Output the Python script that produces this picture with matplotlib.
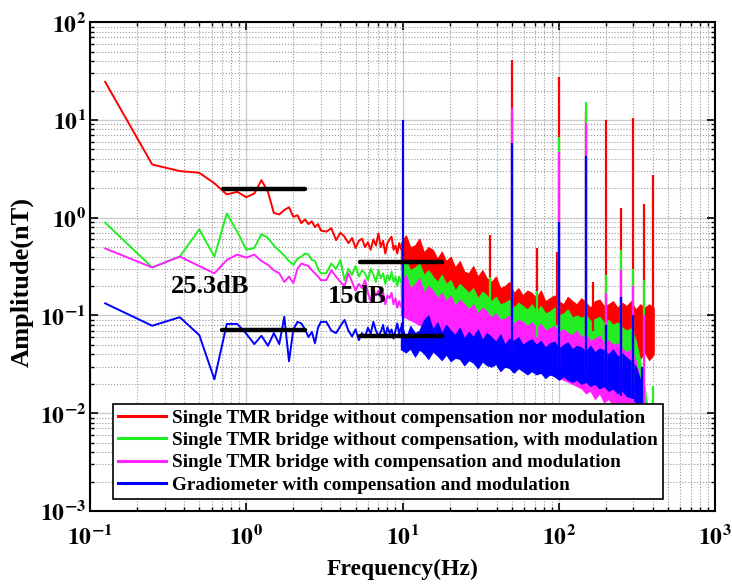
import matplotlib
matplotlib.use("Agg")
import matplotlib.pyplot as plt
from matplotlib.lines import Line2D

plt.rcParams['font.family'] = ['Liberation Serif', 'DejaVu Serif']
plt.rcParams['font.weight'] = 'bold'
plt.rcParams['mathtext.fontset'] = 'stix'

# FFT bins below 3 Hz (0.125 Hz resolution)
f_bins = [0.125, 0.25, 0.375, 0.5, 0.625, 0.75, 0.875, 1.0, 1.125, 1.25, 1.375, 1.5,
          1.625, 1.75, 1.875, 2.0, 2.125, 2.25, 2.375, 2.5, 2.625, 2.75, 2.875, 3.0]
red_lo = [24.5, 3.5, 3.0, 2.88, 2.25, 1.73, 1.84, 1.62, 1.77, 2.42, 1.84, 1.12,
          1.08, 1.2, 1.28, 1.02, 1.06, 0.88, 0.96, 0.86, 0.92, 0.8, 0.86, 0.74]
green_lo = [0.89, 0.31, 0.40, 0.76, 0.40, 1.11, 0.72, 0.47, 0.49, 0.68, 0.62, 0.52,
            0.46, 0.41, 0.36, 0.33, 0.38, 0.40, 0.43, 0.42, 0.37, 0.36, 0.30, 0.27]
magenta_lo = [0.485, 0.31, 0.40, 0.32, 0.27, 0.37, 0.42, 0.39, 0.42, 0.36, 0.33, 0.29,
              0.27, 0.22, 0.25, 0.215, 0.30, 0.34, 0.33, 0.32, 0.29, 0.27, 0.25, 0.23]
blue_lo = [0.133, 0.0785, 0.096, 0.063, 0.0222, 0.082, 0.082, 0.065, 0.051, 0.062, 0.049, 0.066,
           0.051, 0.097, 0.034, 0.072, 0.086, 0.083, 0.072, 0.060, 0.068, 0.052, 0.075, 0.086]

# 3 - 10 Hz
f_mid = [3.25, 3.5, 3.75, 4.0, 4.25, 4.5, 4.75, 5.0, 5.25, 5.5, 5.75, 6.0, 6.25, 6.5,
         6.75, 7.0, 7.25, 7.5, 7.75, 8.0, 8.25, 8.5, 8.75, 9.0, 9.25, 9.5, 9.75]
red_mid = [0.72, 0.78, 0.59, 0.70, 0.64, 0.55, 0.62, 0.49, 0.58, 0.61, 0.50, 0.56, 0.47, 0.60,
           0.52, 0.69, 0.50, 0.58, 0.43, 0.55, 0.60, 0.64, 0.47, 0.52, 0.43, 0.55, 0.48]
green_mid = [0.27, 0.34, 0.30, 0.37, 0.23, 0.30, 0.26, 0.32, 0.25, 0.29, 0.27, 0.23, 0.30, 0.26,
             0.22, 0.29, 0.24, 0.27, 0.21, 0.26, 0.23, 0.28, 0.22, 0.25, 0.20, 0.25, 0.22]
magenta_mid = [0.23, 0.29, 0.25, 0.22, 0.20, 0.27, 0.22, 0.18, 0.21, 0.19, 0.23, 0.17, 0.14, 0.19,
               0.16, 0.18, 0.15, 0.17, 0.13, 0.16, 0.15, 0.17, 0.13, 0.15, 0.12, 0.14, 0.124]
blue_mid = [0.086, 0.070, 0.066, 0.078, 0.090, 0.070, 0.061, 0.072, 0.056, 0.066, 0.060, 0.075, 0.065, 0.086,
            0.070, 0.062, 0.068, 0.080, 0.060, 0.076, 0.066, 0.072, 0.058, 0.070, 0.083, 0.065, 0.075]

# dense part above 10 Hz: upper / lower edge of each noise band
f_band = [9.75, 10.5, 11.2, 12, 12.8, 13.7, 14.6, 15.6, 16.7, 17.8,
          19, 20.3, 21.7, 23.2, 24.8, 26.5, 28.3, 30.3, 32.4, 34.6,
          37, 39.5, 42.2, 45.1, 48.2, 51.5, 55, 58.8, 62.8, 67.1,
          71.7, 76.6, 81.9, 87.5, 93.5, 100, 107, 114, 122, 130,
          139, 149, 159, 170, 182, 194, 208, 222, 237, 254,
          271, 290, 310, 331, 354, 378, 404]
red_up = [0.55, 0.66, 0.50, 0.52, 0.61, 0.44, 0.50, 0.47, 0.38, 0.45,
          0.36, 0.40, 0.31, 0.36, 0.28, 0.27, 0.32, 0.25, 0.29, 0.24,
          0.22, 0.25, 0.19, 0.20, 0.22, 0.17, 0.19, 0.16, 0.18, 0.17,
          0.15, 0.18, 0.14, 0.15, 0.16, 0.14, 0.13, 0.155, 0.14, 0.13,
          0.15, 0.135, 0.12, 0.14, 0.145, 0.125, 0.13, 0.14, 0.12, 0.135,
          0.125, 0.14, 0.115, 0.13, 0.12, 0.13, 0.12]
red_dn = [0.30, 0.28, 0.26, 0.25, 0.23, 0.22, 0.21, 0.20, 0.19, 0.18,
          0.17, 0.16, 0.15, 0.14, 0.135, 0.13, 0.12, 0.115, 0.11, 0.105,
          0.10, 0.095, 0.09, 0.088, 0.085, 0.082, 0.08, 0.078, 0.076, 0.074,
          0.072, 0.07, 0.068, 0.066, 0.065, 0.064, 0.062, 0.06, 0.058, 0.057,
          0.056, 0.055, 0.054, 0.053, 0.052, 0.05, 0.049, 0.048, 0.046, 0.045,
          0.044, 0.038, 0.045, 0.036, 0.042, 0.035, 0.04]
green_up = [0.32, 0.37, 0.29, 0.31, 0.34, 0.26, 0.29, 0.25, 0.22, 0.26,
            0.21, 0.23, 0.18, 0.21, 0.19, 0.17, 0.19, 0.15, 0.175, 0.16,
            0.14, 0.155, 0.13, 0.135, 0.145, 0.12, 0.135, 0.125, 0.115, 0.13,
            0.11, 0.125, 0.105, 0.11, 0.12, 0.10, 0.105, 0.115, 0.095, 0.10,
            0.095, 0.10, 0.088, 0.092, 0.097, 0.085, 0.09, 0.08, 0.085, 0.075,
            0.07, 0.074, 0.056, 0.035, 0.018, 0.009, 0.005]
green_dn = [0.16, 0.15, 0.145, 0.14, 0.13, 0.125, 0.12, 0.115, 0.11, 0.105,
            0.10, 0.095, 0.09, 0.088, 0.085, 0.082, 0.08, 0.077, 0.074, 0.072,
            0.07, 0.067, 0.065, 0.063, 0.061, 0.06, 0.058, 0.057, 0.055, 0.054,
            0.052, 0.051, 0.05, 0.049, 0.048, 0.047, 0.046, 0.045, 0.044, 0.043,
            0.042, 0.041, 0.04, 0.038, 0.037, 0.035, 0.034, 0.032, 0.03, 0.028,
            0.026, 0.023, 0.019, 0.013, 0.008, 0.005, 0.004]
magenta_up = [0.22, 0.26, 0.19, 0.21, 0.24, 0.17, 0.20, 0.18, 0.15, 0.17,
              0.14, 0.16, 0.125, 0.145, 0.13, 0.115, 0.13, 0.105, 0.12, 0.11,
              0.095, 0.105, 0.09, 0.093, 0.10, 0.083, 0.09, 0.086, 0.078, 0.085,
              0.074, 0.082, 0.07, 0.074, 0.078, 0.068, 0.072, 0.066, 0.063, 0.07,
              0.06, 0.064, 0.055, 0.058, 0.062, 0.052, 0.056, 0.05, 0.052, 0.046,
              0.042, 0.045, 0.034, 0.022, 0.012, 0.006, 0.004]
magenta_dn = [0.10, 0.095, 0.09, 0.085, 0.08, 0.077, 0.074, 0.07, 0.067, 0.064,
              0.061, 0.058, 0.055, 0.053, 0.05, 0.048, 0.046, 0.044, 0.042, 0.04,
              0.038, 0.037, 0.036, 0.035, 0.034, 0.033, 0.032, 0.031, 0.03, 0.029,
              0.028, 0.027, 0.026, 0.025, 0.024, 0.023, 0.022, 0.021, 0.02, 0.019,
              0.018, 0.016, 0.017, 0.014, 0.016, 0.013, 0.014, 0.012, 0.013, 0.011,
              0.01, 0.011, 0.008, 0.006, 0.005, 0.004, 0.003]
blue_up = [0.085, 0.058, 0.078, 0.066, 0.07, 0.09, 0.10, 0.072, 0.085, 0.066,
           0.08, 0.07, 0.063, 0.075, 0.058, 0.068, 0.06, 0.072, 0.056, 0.066,
           0.06, 0.054, 0.064, 0.05, 0.058, 0.055, 0.06, 0.05, 0.054, 0.057,
           0.05, 0.055, 0.047, 0.052, 0.054, 0.046, 0.05, 0.053, 0.045, 0.049,
           0.047, 0.043, 0.049, 0.042, 0.046, 0.044, 0.04, 0.045, 0.038, 0.041,
           0.037, 0.034, 0.03, 0.022, 0.01, 0.005, 0.004]
blue_dn = [0.045, 0.042, 0.046, 0.038, 0.045, 0.041, 0.036, 0.043, 0.039, 0.035,
           0.04, 0.034, 0.037, 0.036, 0.031, 0.035, 0.033, 0.029, 0.034, 0.031,
           0.03, 0.032, 0.027, 0.03, 0.029, 0.026, 0.029, 0.027, 0.025, 0.027,
           0.025, 0.026, 0.023, 0.025, 0.024, 0.022, 0.024, 0.022, 0.021, 0.022,
           0.02, 0.021, 0.019, 0.02, 0.018, 0.019, 0.017, 0.018, 0.016, 0.017,
           0.015, 0.0145, 0.013, 0.013, 0.008, 0.005, 0.004]

# narrow-band peaks: frequency, top, bottom
red_pk_f = [36.5, 50, 72, 97, 100, 150, 166, 200, 250, 300, 350, 400]
red_pk_top = [0.66, 40.8, 0.49, 0.45, 27.5, 12.0, 0.22, 10.0, 1.27, 10.4, 1.38, 2.73]
red_pk_bot = [0.15, 0.1, 0.1, 0.08, 0.08, 0.07, 0.07, 0.06, 0.05, 0.05, 0.04, 0.04]
green_pk_f = [36.5, 50, 72, 100, 150, 200, 250, 300, 350, 400]
green_pk_top = [0.25, 12.0, 0.18, 6.7, 15.3, 0.26, 0.47, 0.30, 0.23, 0.019]
green_pk_bot = [0.1, 0.07, 0.06, 0.05, 0.045, 0.035, 0.03, 0.02, 0.012, 0.011]
magenta_pk_f = [50, 100, 150, 200, 250, 300, 350]
magenta_pk_top = [13.1, 4.7, 9.2, 0.17, 0.29, 0.20, 0.10]
magenta_pk_bot = [0.04, 0.03, 0.025, 0.02, 0.015, 0.012, 0.01]
blue_pk_f = [10, 50, 100, 150, 200, 250, 300, 340]
blue_pk_top = [10.0, 5.75, 0.91, 4.27, 0.08, 0.155, 0.10, 0.03]
blue_pk_bot = [0.045, 0.028, 0.024, 0.022, 0.018, 0.015, 0.014, 0.012]

labels = ['Single TMR bridge without compensation nor modulation',
          'Single TMR bridge without compensation, with modulation',
          'Single TMR bridge with compensation and modulation',
          'Gradiometer with compensation and modulation']
colors = ['#ff0000', '#22ee22', '#ff22ff', '#0000ff']

series = [
    (red_lo, red_mid, red_up, red_dn, red_pk_f, red_pk_top, red_pk_bot),
    (green_lo, green_mid, green_up, green_dn, green_pk_f, green_pk_top, green_pk_bot),
    (magenta_lo, magenta_mid, magenta_up, magenta_dn, magenta_pk_f, magenta_pk_top, magenta_pk_bot),
    (blue_lo, blue_mid, blue_up, blue_dn, blue_pk_f, blue_pk_top, blue_pk_bot),
]

fig = plt.figure(figsize=(7.32, 5.84), dpi=100)
ax = fig.add_axes([0.123, 0.125, 0.854, 0.837])

for (lo, mid, up, dn, pf, pt, pb), c in zip(series, colors):
    ax.plot(f_bins + f_mid, lo + mid, color=c, lw=1.4)
    ax.fill_between(f_band, dn, up, color=c, lw=0.8, edgecolor=c)
    ax.vlines(pf, pb, pt, color=c, lw=1.6)

# level markers
ax.plot([0.71, 2.38], [1.96, 1.96], color='k', lw=3.2, solid_capstyle='round')
ax.plot([0.70, 2.36], [0.0715, 0.0715], color='k', lw=3.2, solid_capstyle='round')
ax.plot([5.3, 17.8], [0.35, 0.35], color='k', lw=3.2, solid_capstyle='round')
ax.plot([5.3, 17.8], [0.0615, 0.0615], color='k', lw=3.2, solid_capstyle='round')
ax.text(0.586, 0.20, '25.3dB', fontsize=19, fontweight='bold', ha='center', va='center')
ax.text(5.15, 0.157, '15dB', fontsize=19, fontweight='bold', ha='center', va='center')

ax.set_xscale('log')
ax.set_yscale('log')
ax.set_xlim(0.1, 1000)
ax.set_ylim(1e-3, 1e2)
ax.set_xticks([0.1, 1, 10, 100, 1000])
ax.set_xticklabels([r'$\mathbf{10^{-1}}$', r'$\mathbf{10^{0}}$', r'$\mathbf{10^{1}}$',
                    r'$\mathbf{10^{2}}$', r'$\mathbf{10^{3}}$'])
ax.set_yticks([1e-3, 1e-2, 1e-1, 1, 10, 100])
ax.set_yticklabels([r'$\mathbf{10^{-3}}$', r'$\mathbf{10^{-2}}$', r'$\mathbf{10^{-1}}$',
                    r'$\mathbf{10^{0}}$', r'$\mathbf{10^{1}}$', r'$\mathbf{10^{2}}$'])
ax.tick_params(which='both', direction='in', top=True, right=True, labelsize=17)
ax.tick_params(axis='x', pad=10)
ax.tick_params(axis='y', pad=3)
ax.tick_params(which='major', length=6, width=1.2)
ax.tick_params(which='minor', length=3, width=1.0)
ax.grid(True, which='major', color='#cccccc', lw=1.0, ls='-')
ax.grid(True, which='minor', color='#999999', lw=0.8, ls=':')
ax.set_axisbelow(True)
for s in ax.spines.values():
    s.set_linewidth(1.5)

ax.set_xlabel('Frequency(Hz)', fontsize=17, fontweight='bold', labelpad=7)
ax.set_ylabel('Amplitude(nT)', fontsize=19, fontweight='bold')
ax.yaxis.set_label_coords(-0.09, 0.468)

handles = [Line2D([], [], color=c, lw=2.2) for c in colors]
leg = ax.legend(handles, labels, loc='lower left', bbox_to_anchor=(0.036, 0.024),
                fontsize=13.8, frameon=True, fancybox=False, framealpha=1,
                edgecolor='k', handlelength=2.5, handletextpad=0.3,
                labelspacing=0.25, borderpad=0.3, borderaxespad=0)
leg.get_frame().set_linewidth(1.2)
for t in leg.get_texts():
    t.set_fontweight('bold')

fig.savefig('out.png', dpi=100)
